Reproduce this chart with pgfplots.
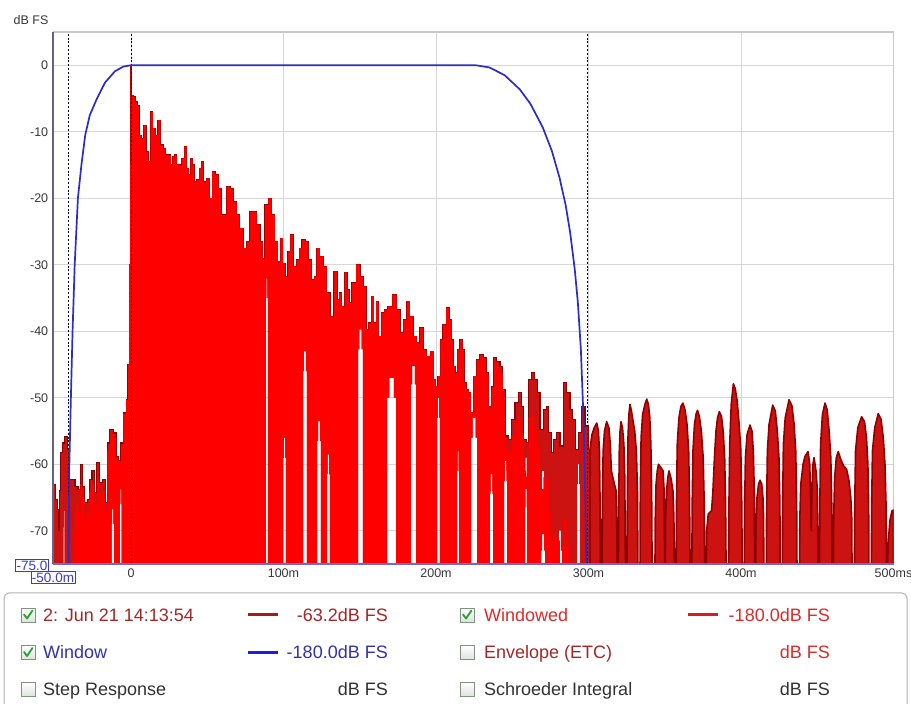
\documentclass[border=0pt]{standalone}
\usepackage{fontspec}
\setmainfont{Liberation Sans}
\usepackage{pgfplots}
\usepackage{pgfplotstable}
\pgfplotsset{compat=1.18}

\definecolor{rawfill}{RGB}{205,18,18}
\definecolor{rawedge}{RGB}{145,0,0}
\definecolor{winred}{RGB}{255,0,0}
\definecolor{winblue}{RGB}{45,45,195}
\definecolor{gridc}{RGB}{214,214,214}
\definecolor{framec}{RGB}{200,200,200}
\definecolor{spinec}{RGB}{100,100,128}
\definecolor{botc}{RGB}{105,105,225}
\definecolor{ticktext}{RGB}{55,55,55}
\definecolor{legmaroon}{RGB}{160,40,40}
\definecolor{legred}{RGB}{215,45,45}
\definecolor{legblue}{RGB}{50,50,170}
\definecolor{leggray}{RGB}{50,50,50}
\definecolor{cbborder}{RGB}{130,145,130}
\definecolor{cbfill}{RGB}{222,226,222}
\definecolor{checkg}{RGB}{40,160,50}
\definecolor{boxblue}{RGB}{60,60,200}

\newcommand{\tickfont}{\fontsize{12.5}{14}\selectfont}
\newcommand{\boxfont}{\fontsize{13.5}{15}\selectfont}
\newcommand{\legfont}{\fontsize{18}{20}\selectfont}

% raw impulse response, upper envelope, -51 ... 301 ms (dB FS)
\pgfplotstableread{
t db
-51 -63
-49.8 -63
-48.7 -65.3
-47.7 -66.8
-47.2 -70
-46.6 -64
-45.4 -58.3
-44.4 -56.8
-42.6 -55.8
-41.1 -57.8
-40 -62.3
-37.8 -62.3
-35.6 -63.3
-33.9 -63.8
-32.3 -60
-31.3 -63.3
-29.5 -65.8
-28 -65.3
-26.4 -62.3
-24.7 -61
-23.3 -64.3
-21.4 -59.8
-19.9 -62.8
-17.7 -62.3
-15.9 -65.8
-14.9 -56.8
-12.7 -54.8
-10.5 -55.3
-9 -58.8
-7.2 -59.5
-6.1 -56.8
-3.9 -52.3
-2.4 -50.3
-1.5 -45
-0.8 -30
-0.3 -15
0 0
0.4 -4.5
2.2 -4.75
3.7 -5.5
4.8 -6
5.9 -10.5
7.4 -11
9.2 -9
10.5 -13
12.2 -14.5
13.5 -7
15.3 -9.5
16.8 -10.5
18.6 -8.25
20.1 -12
21.9 -12.5
23.4 -13.5
25.6 -13.5
26.7 -15
27.8 -13.75
29.3 -13.5
30.4 -15
32.1 -15
34.3 -14
35.8 -12.25
37.2 -15.5
38.5 -16.5
39.8 -14
40.9 -15
42 -17.5
44.2 -17.25
45.5 -15.5
46.8 -14.5
48.1 -17.5
50.7 -17
52.5 -20
54 -16
56.2 -16.5
58.4 -18.5
59.9 -22.5
61.6 -22.5
63.8 -18.25
66 -18.5
68.2 -20.5
70.4 -22.5
72.1 -24.5
74.8 -27.5
76.9 -26.5
79.1 -22
81.3 -22
83.5 -24
85.7 -26.5
86.8 -29
89 -21
91.1 -20
93.3 -22.5
95.5 -26.5
97 -29.5
98.8 -26
100.3 -29.75
102 -31.75
103.8 -28
105.3 -25.5
107.5 -30.25
109.7 -29.25
111.3 -27.5
113 -26.25
115.2 -26.5
117.4 -29.25
119.6 -32.25
120.6 -31.75
122.8 -27.5
125 -28.75
127.2 -30.25
129.4 -34.25
131.6 -37.75
134.4 -31
136 -35.25
137 -34.25
139.2 -36.25
141 -31.15
142.5 -33.75
143.6 -35.75
146.2 -32.75
149.1 -30
151.2 -31.75
153.4 -33.25
155 -39.75
156.7 -38.75
158.5 -34.75
160 -38.75
161.5 -35.5
163.3 -40.75
165 -37.25
167.2 -36.75
169.8 -36.25
173.1 -34.5
175.3 -36.75
177.5 -40.25
179.7 -38.25
181.8 -35.5
184 -37.75
186.2 -40.75
188.4 -41.75
190.6 -39.5
192.8 -42.75
195 -43.75
197.8 -43
199.3 -47.25
200.4 -48.25
202.2 -46.75
203.7 -41.25
205.2 -39
208.1 -36.5
209.6 -38.25
210.9 -41.25
211.8 -45.25
213.5 -46.25
214.6 -42.75
216.8 -41.25
217.9 -42.75
219 -47.75
220.6 -48.75
222.3 -49.25
223.4 -52.25
225.6 -46.75
227.7 -44.25
229.9 -43.5
232.1 -44
233.7 -46.25
235.4 -51.25
237.2 -48.25
238.7 -44
240.9 -44.5
243.1 -45.25
244.6 -48.75
246.3 -55.75
248.5 -56.25
250.7 -53.25
252.9 -50.75
255.1 -49.25
256.8 -51.25
258.4 -56.25
259.9 -56.75
261.7 -47.25
263.4 -46.25
265.6 -47.25
267.1 -49.25
269.3 -54.75
271.5 -51.75
273 -51.25
274.8 -55.25
276.5 -58.25
278 -56.25
280.2 -55.25
282.4 -57.25
284.6 -47.75
286.8 -49.25
289 -51.75
290.5 -53.25
292.3 -57.75
294.5 -55.25
296.6 -51.25
298.8 -54.25
301.0 -57.75
}\rawUa

% raw impulse response, lower envelope, 301 ... -51 ms (right to left)
\pgfplotstableread{
t db
301 -75
294.4 -75
294.4 -63
293.45 -60
292.5 -63
292.5 -75
282.6 -75
282.6 -73
281.3 -70
280 -73
280 -75
271.5 -75
271.5 -64
270.2 -61
268.9 -64
268.9 -75
259.7 -75
259.7 -62
259.05 -59
258.4 -62
258.4 -75
246.6 -75
246.6 -61
245.6 -58
244.6 -61
244.6 -75
237.4 -75
237.4 -64
236.4 -61
235.4 -64
235.4 -75
226.9 -75
226.9 -56
224.95 -53
223 -56
223 -75
215.1 -75
215.1 -61
214.45 -58
213.8 -61
213.8 -75
202.6 -75
202.6 -53
201.65 -50
200.7 -53
200.7 -75
186.9 -75
186.9 -48
185.25 -45.2
183.6 -48
183.6 -75
173.8 -75
173.8 -50
170.85 -47
167.9 -50
167.9 -75
152.1 -75
152.1 -42.7
150.5 -39.7
148.9 -42.7
148.9 -75
130.5 -75
130.5 -61.5
129.5 -58.5
128.5 -61.5
128.5 -75
124.6 -75
124.6 -56.5
123.3 -53.5
122 -56.5
122 -75
115.4 -75
115.4 -46
114.1 -43
112.8 -46
112.8 -75
101.6 -75
101.6 -59
100.65 -56
99.7 -59
99.7 -75
89.8 -75
89.8 -35
89.15 -32
88.5 -35
88.5 -75
-6.1 -75
-6.1 -66
-6.65 -63.75
-7.2 -66
-7.2 -75
-11.1 -75
-11.1 -69
-11.9 -66.75
-12.7 -69
-12.7 -75
-43.6 -75
-43.6 -69.5
-43.9 -67
-44.2 -69.5
-44.2 -75
-51 -75
-51 -63
}\rawLa

% raw impulse response after the window, 301 ... 500 ms (lobes), closed at the bottom
\pgfplotstableread{
t db
301 -57.75
302.3 -55.5
303.8 -54.5
305.4 -53.8
306.5 -55
307.2 -58
307.6 -66
307.9 -75
308.9 -75
309.1 -66
309.6 -58
310.5 -55
311.9 -53.6
313.4 -54.5
314.3 -57
315 -61
316.5 -62.5
318.1 -64
318.5 -68
318.8 -75
319.6 -75
319.8 -66
320.2 -58
320.7 -55
321.3 -53.6
322.3 -54.5
323.2 -57
323.8 -62
324.2 -75
325.3 -75
325.5 -64
325.9 -56
326.5 -52.5
327.2 -51
328.2 -52
329 -53.2
330.3 -55
331.4 -58
332.1 -64
332.4 -75
333.8 -75
334 -64
334.5 -56
335.5 -52.5
337 -51
338.2 -50.2
339.3 -51
340.2 -53
340.9 -57
341.4 -64
341.7 -75
343.6 -75
343.8 -68
344.3 -63
345.1 -61
345.9 -60
347.5 -60.5
348.9 -61
349.6 -64
350 -75
350.4 -75
350.6 -68
351.2 -64
352 -62
352.8 -61
354.2 -62.2
355.4 -64
356 -68
356.3 -75
357.5 -75
357.7 -66
358.2 -57
359.3 -53
360.6 -51.3
361.9 -50.8
363.3 -51.8
364.6 -54
365.7 -58
366.3 -66
366.6 -75
367.8 -75
368 -66
368.5 -58
369.5 -54
370.6 -52.4
371.5 -51.9
372.7 -52.8
374 -55
375.2 -59
375.9 -66
376.2 -75
377.3 -75
377.5 -70
378.5 -67.5
380.7 -67
381.6 -64
382.6 -59
383.6 -55
384.6 -53
385.8 -52.1
387.2 -52.8
388.3 -55
389.3 -59
389.9 -66
390.2 -75
391.9 -75
392.1 -66
392.6 -57
393.6 -51
395 -47.9
396.2 -48.6
397.5 -50.5
398.8 -54
399.9 -58
400.5 -66
400.8 -75
402.2 -75
402.4 -66
402.9 -59
404 -55.5
405.9 -54.1
407.2 -55
408.1 -58
408.7 -64
409 -75
409.7 -75
409.9 -68
410.5 -65
411.5 -63
412.5 -62.4
413.6 -63
414.4 -65
414.8 -68
415 -75
416.6 -75
416.8 -66
417.3 -58
418.4 -54
420.8 -51.1
422.5 -52
423.8 -55
424.9 -59
425.5 -66
425.7 -75
427.1 -75
427.3 -66
427.8 -57
429 -53
431.5 -50.3
433.4 -51.2
434.8 -54
435.9 -58
436.5 -66
436.7 -75
438.4 -75
438.6 -68
439.2 -63
440.7 -60
442 -58.8
444 -58.1
445.1 -60
445.7 -66
446.1 -70
446.5 -64
447.2 -60
447.9 -59
449.2 -61
450.1 -64
450.5 -75
451.5 -75
451.7 -66
452.2 -57
453.4 -52.5
455.1 -50.8
456.5 -51.8
457.8 -55
458.9 -59
459.5 -66
459.7 -75
460.6 -75
460.8 -68
461.4 -62
462.5 -59
463.8 -58.1
465.3 -59.2
467.2 -60.2
469.3 -60.8
470.8 -62.5
472 -65
472.6 -68
472.8 -75
474.4 -75
474.6 -66
475.1 -58
476.6 -54.5
479.1 -52.85
481 -53.6
482.3 -56
483.2 -60
483.7 -66
483.9 -75
485.5 -75
485.7 -66
486.2 -58
487.7 -54.5
490 -52.4
491.8 -53.2
493.3 -56
494.4 -60
495.1 -66
495.4 -75
496.2 -75
496.5 -72
497.6 -68.5
499 -67
500 -66.9
500 -75
301 -75
301 -57.75
}\rawB

% windowed impulse response, upper envelope
\pgfplotstableread{
t db
-38.5 -75
-37.5 -70
-35.6 -66
-33.9 -67
-32.3 -63
-31.3 -65
-29.5 -68
-28 -67
-26.4 -64
-24.7 -63
-23.3 -66
-21.4 -62
-19.9 -64.5
-17.7 -64
-15.9 -67
-14.9 -58
-12.7 -55.5
-10.5 -56
-9 -59.5
-7.2 -60
-6.1 -57.2
-3.9 -52.4
-2.4 -50.3
-1.5 -45
-0.8 -30
-0.3 -15
0 0
0.4 -4.5
2.2 -4.75
3.7 -5.5
4.8 -6
5.9 -10.5
7.4 -11
9.2 -9
10.5 -13
12.2 -14.5
13.5 -7
15.3 -9.5
16.8 -10.5
18.6 -8.25
20.1 -12
21.9 -12.5
23.4 -13.5
25.6 -13.5
26.7 -15
27.8 -13.75
29.3 -13.5
30.4 -15
32.1 -15
34.3 -14
35.8 -12.25
37.2 -15.5
38.5 -16.5
39.8 -14
40.9 -15
42 -17.5
44.2 -17.25
45.5 -15.5
46.8 -14.5
48.1 -17.5
50.7 -17
52.5 -20
54 -16
56.2 -16.5
58.4 -18.5
59.9 -22.5
61.6 -22.5
63.8 -18.25
66 -18.5
68.2 -20.5
70.4 -22.5
72.1 -24.5
74.8 -27.5
76.9 -26.5
79.1 -22
81.3 -22
83.5 -24
85.7 -26.5
86.8 -29
89 -21
91.1 -20
93.3 -22.5
95.5 -26.5
97 -29.5
98.8 -26
100.3 -29.75
102 -31.75
103.8 -28
105.3 -25.5
107.5 -30.25
109.7 -29.25
111.3 -27.5
113 -26.25
115.2 -26.5
117.4 -29.25
119.6 -32.25
120.6 -31.75
122.8 -27.5
125 -28.75
127.2 -30.25
129.4 -34.25
131.6 -37.75
134.4 -31
136 -35.25
137 -34.25
139.2 -36.25
141 -31.15
142.5 -33.75
143.6 -35.75
146.2 -32.75
149.1 -30
151.2 -31.75
153.4 -33.25
155 -39.75
156.7 -38.75
158.5 -34.75
160 -38.75
161.5 -35.5
163.3 -40.75
165 -37.25
167.2 -36.75
169.8 -36.25
173.1 -34.5
175.3 -36.75
177.5 -40.25
179.7 -38.25
181.8 -35.5
184 -37.75
186.2 -40.75
188.4 -41.75
190.6 -39.5
192.8 -42.75
195 -43.75
197.8 -43
199.3 -47.25
200.4 -48.25
202.2 -46.75
203.7 -41.25
205.2 -39
208.1 -36.5
209.6 -38.25
210.9 -41.25
211.8 -45.25
213.5 -46.25
214.6 -42.75
216.8 -41.25
217.9 -42.75
219 -47.75
220.6 -48.75
222.3 -49.25
223.4 -52.25
225.6 -46.75
227.7 -44.3
229.9 -43.6
232.1 -44.2
233.7 -46.5
235.4 -51.6
237.2 -48.75
238.7 -44.65
240.9 -45.35
243.1 -46.35
244.6 -50.1
246.3 -57.35
248.5 -58.25
250.7 -55.75
252.9 -53.85
255.1 -52.9
256.8 -55.45
258.4 -60.95
259.9 -61.85
261.7 -52.95
263.4 -52.65
265.6 -54.65
267.1 -57.25
269.3 -63.75
271.5 -61.95
273 -62.25
274.8 -67.45
276.5 -71.55
278 -70.75
280.2 -71.45
282.4 -75
283.5 -72
284.6 -68.35
286.8 -72.25
288 -75
}\winU

% windowed impulse response, lower envelope (right to left)
\pgfplotstableread{
t db
288 -75
271.5 -75
271.5 -73
270.2 -70.5
268.9 -73
268.9 -75
259.7 -75
259.7 -66.5
259.05 -63.7
258.4 -66.5
258.4 -75
246.6 -75
246.6 -62.5
245.6 -59.5
244.6 -62.5
244.6 -75
237.4 -75
237.4 -64.5
236.4 -61.5
235.4 -64.5
235.4 -75
226.9 -75
226.9 -56
224.95 -53
223 -56
223 -75
215.1 -75
215.1 -61
214.45 -58
213.8 -61
213.8 -75
202.6 -75
202.6 -53
201.65 -50
200.7 -53
200.7 -75
186.9 -75
186.9 -48
185.25 -45.2
183.6 -48
183.6 -75
173.8 -75
173.8 -50
170.85 -47
167.9 -50
167.9 -75
152.1 -75
152.1 -42.7
150.5 -39.7
148.9 -42.7
148.9 -75
130.5 -75
130.5 -61.5
129.5 -58.5
128.5 -61.5
128.5 -75
124.6 -75
124.6 -56.5
123.3 -53.5
122 -56.5
122 -75
115.4 -75
115.4 -46
114.1 -43
112.8 -46
112.8 -75
101.6 -75
101.6 -59
100.65 -56
99.7 -59
99.7 -75
89.8 -75
89.8 -35
89.15 -32
88.5 -35
88.5 -75
-6.1 -75
-6.1 -66
-6.65 -63.75
-7.2 -66
-7.2 -75
-11.1 -75
-11.1 -69
-11.9 -66.75
-12.7 -69
-12.7 -75
-38.5 -75
}\winL

% window function
\pgfplotstableread{
t db
-41.0 -75
-40.7 -68
-40.4 -60
-39.4 -50
-38.3 -40
-36.9 -30
-34.8 -20
-32.5 -15
-30 -10.5
-27 -7.5
-22.3 -5
-17 -2.6
-10.5 -0.9
-5 -0.2
0 0
226 0
235 -0.33
245 -1.49
255 -3.64
262 -5.83
270 -9.34
276 -12.9
281 -16.9
285 -21
288 -25.2
291 -30.7
293 -35.6
295 -42.7
297 -54.7
298 -66.6
298.5 -75
}\winW

\pgfplotstablevertcat{\rawP}{\rawUa}
\pgfplotstablevertcat{\rawP}{\rawLa}
\pgfplotstablevertcat{\winP}{\winU}
\pgfplotstablevertcat{\winP}{\winL}

\newcommand{\cbx}[2]{\draw[line width=0.9pt, draw=cbborder, top color=white, bottom color=cbfill] (#1,#2-7) rectangle ++(14,14);}
\newcommand{\chk}[2]{\draw[line width=1.8pt, checkg, line cap=round, line join=round] (#1+3,#2+0.5) -- (#1+6,#2-3.5) -- (#1+11.5,#2+4.5);}

\begin{document}
\begin{tikzpicture}
\useasboundingbox (0,0) rectangle (911pt,704pt);
\fill[white] (0,0) rectangle (911pt,704pt);
\begin{axis}[
  at={(53.2pt,140pt)}, anchor=south west,
  scale only axis, width=840.3pt, height=532pt,
  xmin=-51, xmax=500, ymin=-75, ymax=5,
  xtick={0,100,200,300,400,500},
  xticklabels={0,100m,200m,300m,400m,500ms},
  ytick={-70,-60,-50,-40,-30,-20,-10,0},
  yticklabels={-70,-60,-50,-40,-30,-20,-10,0},
  grid=major,
  major grid style={draw=gridc, line width=0.9pt},
  major tick length=0pt,
  axis line style={draw=framec, line width=1.2pt},
  ticklabel style={font=\tickfont, text=ticktext},
  yticklabel style={xshift=-1.5pt},
  xticklabel style={yshift=-1pt},
]
% measured response (dark red), window region drawn as steps
\addplot[fill=rawfill, draw=none, const plot mark mid] table {\rawP};
\addplot[rawedge, line width=1.1pt, const plot mark mid] table {\rawUa};
\addplot[fill=rawfill, draw=rawedge, line width=1.6pt, line join=round] table {\rawB};
% windowed response (bright red)
\addplot[fill=winred, draw=none, const plot mark mid] table {\winP};

\addplot[black, line width=0.8pt, dash pattern=on 2pt off 1.8pt] coordinates {(-41.3,-75) (-41.3,5)};
\addplot[black, line width=0.8pt, dash pattern=on 2pt off 1.8pt] coordinates {(0,-75) (0,5)};
\addplot[black, line width=0.8pt, dash pattern=on 2pt off 1.8pt] coordinates {(299,-75) (299,5)};

\addplot[winblue, line width=1.7pt] table {\winW};
\end{axis}

\draw[spinec, line width=2.5pt] (53.2pt,140pt) -- (53.2pt,672pt);
\draw[botc, line width=1.6pt] (53.2pt,140pt) -- (893.5pt,140pt);

\begin{scope}[x=1pt,y=1pt]
\node[font=\tickfont, text=ticktext, inner sep=0] at (31,684) {dB FS};
\node[draw=boxblue, line width=0.8pt, text=boxblue, font=\boxfont, inner sep=1pt, fill=white] at (32,138.5) {-75.0};
\node[draw=boxblue, line width=0.8pt, text=boxblue, font=\boxfont, inner sep=1pt, fill=white] at (53,126.5) {-50.0m};

\draw[gray!60, line width=1pt, rounded corners=5pt, fill=white] (4,-20) rectangle (907,111);

\cbx{21}{89}\chk{21}{89}
\node[anchor=base west, inner sep=0, font=\legfont, text=legmaroon] at (43,82.5) {2: Jun 21 14:13:54};
\draw[line width=3pt, color={rgb,255:red,165;green,25;blue,25}] (248,89) -- (278,89);
\node[anchor=base east, inner sep=0, font=\legfont, text=legmaroon] at (388,82.5) {-63.2dB FS};
\cbx{460}{89}\chk{460}{89}
\node[anchor=base west, inner sep=0, font=\legfont, text=legred] at (484,82.5) {Windowed};
\draw[line width=3pt, color={rgb,255:red,215;green,30;blue,30}] (688,89) -- (718,89);
\node[anchor=base east, inner sep=0, font=\legfont, text=legred] at (830,82.5) {-180.0dB FS};

\cbx{21}{51.5}\chk{21}{51.5}
\node[anchor=base west, inner sep=0, font=\legfont, text=legblue] at (43,45) {Window};
\draw[line width=3pt, color={rgb,255:red,30;green,30;blue,210}] (248,51.5) -- (278,51.5);
\node[anchor=base east, inner sep=0, font=\legfont, text=legblue] at (388,45) {-180.0dB FS};
\cbx{460}{51.5}
\node[anchor=base west, inner sep=0, font=\legfont, text=legmaroon] at (484,45) {Envelope (ETC)};
\node[anchor=base east, inner sep=0, font=\legfont, text=legred] at (830,45) {dB FS};

\cbx{21}{14.5}
\node[anchor=base west, inner sep=0, font=\legfont, text=leggray] at (43,8) {Step Response};
\node[anchor=base east, inner sep=0, font=\legfont, text=leggray] at (388,8) {dB FS};
\cbx{460}{14.5}
\node[anchor=base west, inner sep=0, font=\legfont, text=leggray] at (484,8) {Schroeder Integral};
\node[anchor=base east, inner sep=0, font=\legfont, text=leggray] at (830,8) {dB FS};
\end{scope}
\end{tikzpicture}
\end{document}
